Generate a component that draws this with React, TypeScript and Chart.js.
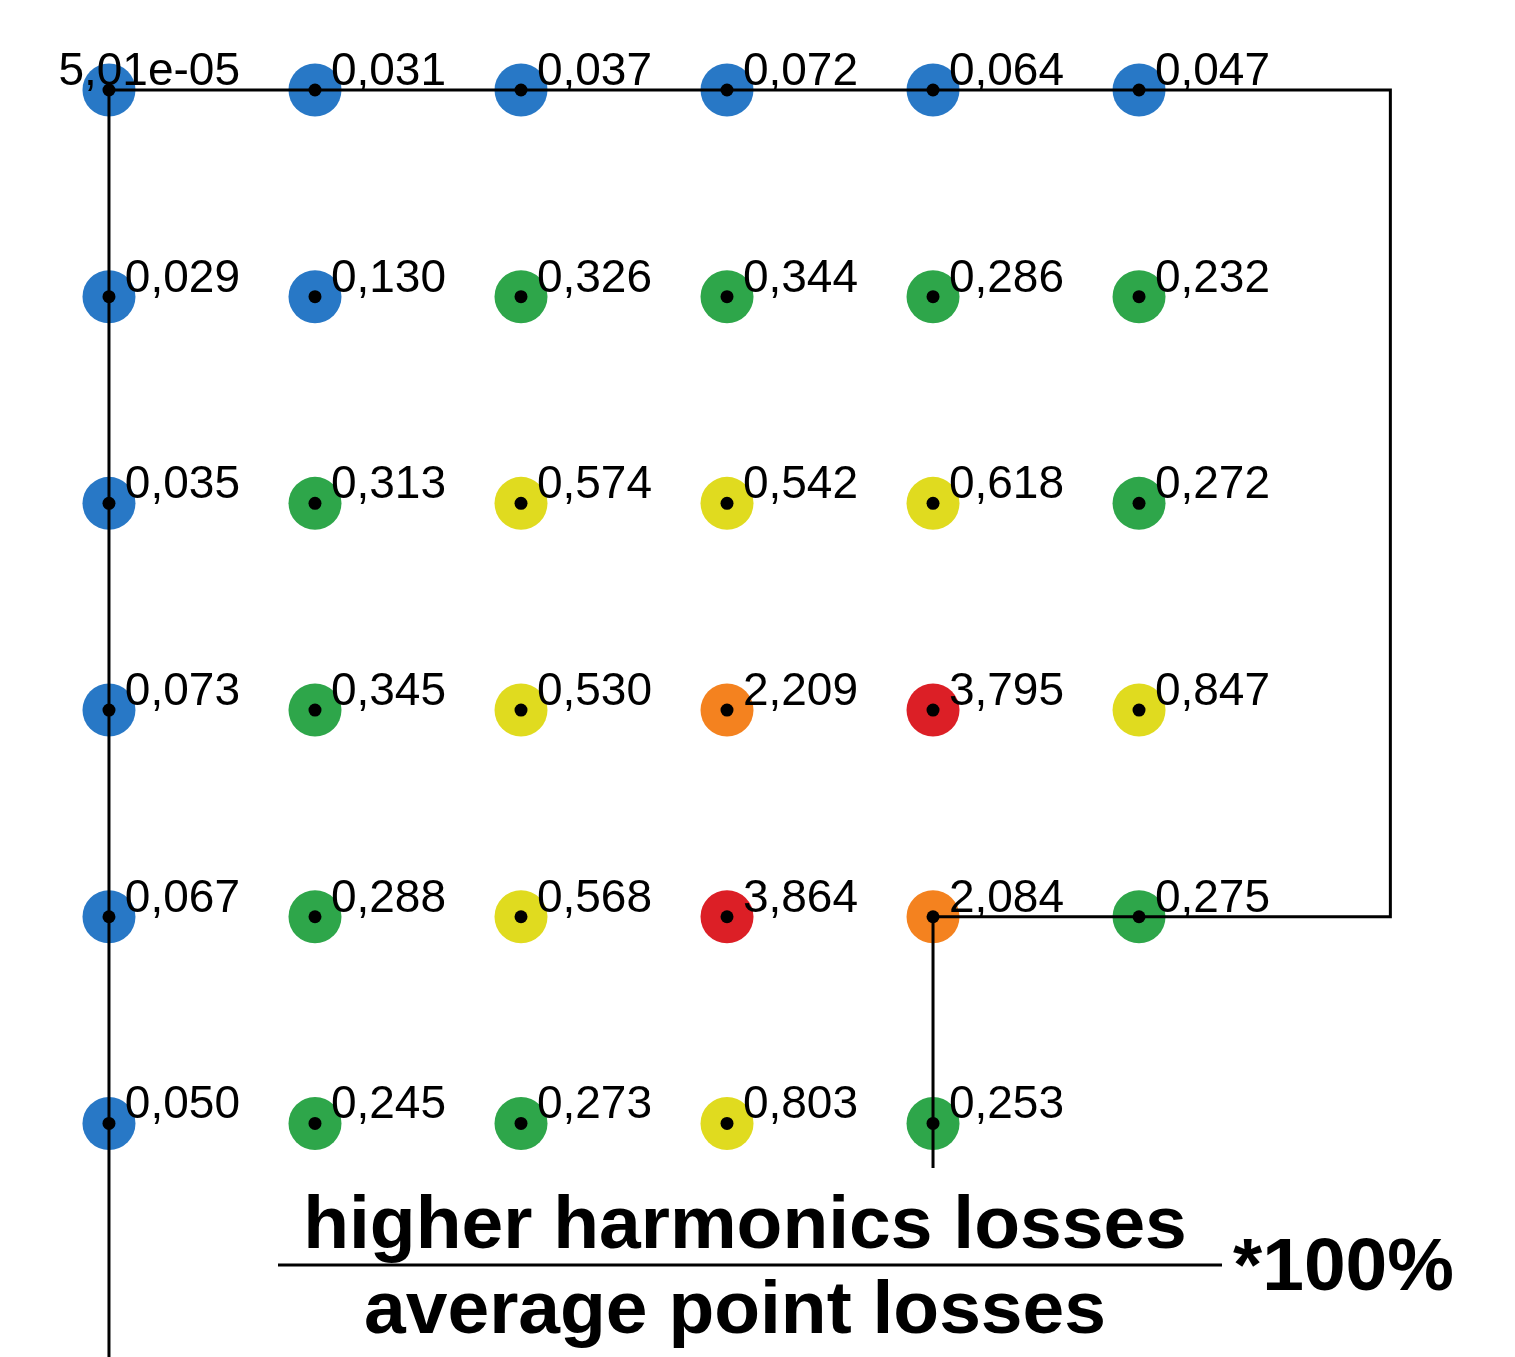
import React, { useEffect, useRef } from "react";
import { Chart, registerables } from "chart.js";

Chart.register(...registerables);

// Loss ratios per grid row (top to bottom), columns left to right
const row1 = [5.01e-5, 0.031, 0.037, 0.072, 0.064, 0.047];
const row2 = [0.029, 0.13, 0.326, 0.344, 0.286, 0.232];
const row3 = [0.035, 0.313, 0.574, 0.542, 0.618, 0.272];
const row4 = [0.073, 0.345, 0.53, 2.209, 3.795, 0.847];
const row5 = [0.067, 0.288, 0.568, 3.864, 2.084, 0.275];
const row6 = [0.05, 0.245, 0.273, 0.803, 0.253];
const rows = [row1, row2, row3, row4, row5, row6];

// Colour classes by value (upper bounds)
const classLimits = [0.2, 0.5, 1, 3, Infinity];
const classColors = ["#2878c6", "#2ea64a", "#e0db1f", "#f4821f", "#dc1f26"];

// Boundary lines in grid units (column index, row index)
const boundaryPath = [
  { x: 0, y: 0 },
  { x: 6.22, y: 0 },
  { x: 6.22, y: 4 },
  { x: 4, y: 4 },
  { x: 4, y: 5.215 },
];
const leftPath = [
  { x: 0, y: 0 },
  { x: 0, y: 6.3 },
];

const formulaTop = "higher harmonics losses";
const formulaBottom = "average point losses";
const formulaFactor = "*100%";

function fmt(v: number): string {
  if (v < 0.001) {
    const s = v.toExponential(2); // 5.01e-5
    const m = s.match(/^(.*)e([+-])(\d+)$/);
    if (m) return `${m[1].replace(".", ",")}e${m[2]}${m[3].padStart(2, "0")}`;
    return s;
  }
  return v.toFixed(3).replace(".", ",");
}

function colorFor(v: number): string {
  for (let i = 0; i < classLimits.length; i++) if (v < classLimits[i]) return classColors[i];
  return classColors[classColors.length - 1];
}

export default function App() {
  const ref = useRef<HTMLCanvasElement | null>(null);

  useEffect(() => {
    document.body.style.margin = "0";
    const points: { x: number; y: number; v: number }[] = [];
    rows.forEach((row, r) => row.forEach((v, c) => points.push({ x: c, y: r, v })));

    const labelPlugin = {
      id: "labels",
      afterDraw(chart: any) {
        const ctx = chart.ctx;
        const meta = chart.getDatasetMeta(3);
        ctx.save();
        ctx.fillStyle = "#000";
        ctx.font = '46px "Liberation Sans", Arial, sans-serif';
        ctx.textAlign = "right";
        ctx.textBaseline = "alphabetic";
        meta.data.forEach((el: any, i: number) => {
          ctx.fillText(fmt(points[i].v), el.x + 131, el.y - 5);
        });
        ctx.font = 'bold 75px "Liberation Sans", Arial, sans-serif';
        ctx.textAlign = "center";
        ctx.fillText(formulaTop, 745, 1248);
        ctx.fillText(formulaBottom, 735, 1333);
        ctx.fillRect(278, 1263.5, 944, 3);
        ctx.textAlign = "left";
        ctx.fillText(formulaFactor, 1233, 1290);
        ctx.restore();
      },
    };

    const chart = new Chart(ref.current!, {
      type: "scatter",
      data: {
        datasets: [
          {
            data: points,
            pointRadius: 6.5,
            pointBackgroundColor: "#000",
            pointBorderWidth: 0,
            order: 0,
          } as any,
          {
            type: "line",
            data: boundaryPath,
            borderColor: "#000",
            borderWidth: 3,
            pointRadius: 0,
            fill: false,
            borderJoinStyle: "miter",
            order: 1,
          } as any,
          {
            type: "line",
            data: leftPath,
            borderColor: "#000",
            borderWidth: 3,
            pointRadius: 0,
            fill: false,
            order: 1,
          } as any,
          {
            data: points,
            pointRadius: 26.5,
            pointBackgroundColor: points.map((p) => colorFor(p.v)),
            pointBorderWidth: 0,
            order: 2,
          } as any,
        ],
      },
      options: {
        responsive: false,
        animation: false,
        layout: { padding: 0, autoPadding: false },
        plugins: { legend: { display: false }, tooltip: { enabled: false } },
        scales: {
          x: { type: "linear", min: -0.529, max: 6.825, display: false },
          y: { type: "linear", min: -0.4354, max: 6.13, reverse: true, display: false },
        },
      },
      plugins: [labelPlugin],
    });
    return () => chart.destroy();
  }, []);

  return (
    <div style={{ width: 1515, height: 1357, background: "#fff" }}>
      <canvas ref={ref} width={1515} height={1357} />
    </div>
  );
}
